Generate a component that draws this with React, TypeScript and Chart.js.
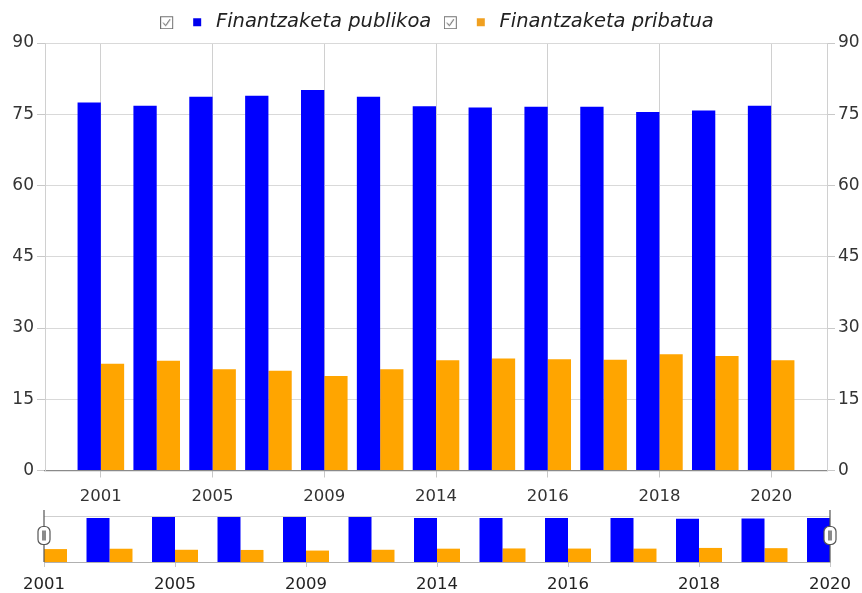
import React, { useEffect, useRef } from 'react';
import { Chart, registerables } from 'chart.js';

Chart.register(...registerables);

const years = ['2001', '2003', '2005', '2007', '2009', '2012', '2014', '2015', '2016', '2017', '2018', '2019', '2020'];
const publikoa = [77.5, 76.8, 78.7, 78.9, 80.1, 78.7, 76.7, 76.4, 76.6, 76.6, 75.5, 75.8, 76.8];
const pribatua = [22.5, 23.1, 21.3, 21.0, 19.9, 21.3, 23.2, 23.6, 23.4, 23.3, 24.5, 24.1, 23.2];
const seriesNames = ['Finantzaketa publikoa', 'Finantzaketa pribatua'];
const seriesColors = ['#0000FF', '#FFA500'];
const legendSquareColors = ['#0000EE', '#F0A020'];
const yTickValues = [0, 15, 30, 45, 60, 75, 90];
const labelledIndexes = [0, 2, 4, 6, 8, 10, 12];

const FONT = "'DejaVu Sans', Verdana, sans-serif";
const W = 862;
const MAIN_H = 505;
const NAV_H = 93;

function makeLegendIcon(color: string): HTMLCanvasElement {
  const c = document.createElement('canvas');
  c.width = 46;
  c.height = 14;
  const ctx = c.getContext('2d')!;
  ctx.strokeStyle = '#707070';
  ctx.lineWidth = 1;
  ctx.strokeRect(0.5, 1.5, 12, 12);
  ctx.beginPath();
  ctx.moveTo(3, 7.5);
  ctx.lineTo(5.5, 10.5);
  ctx.lineTo(10, 4);
  ctx.strokeStyle = '#444';
  ctx.stroke();
  ctx.fillStyle = color;
  ctx.fillRect(33, 3, 8, 8);
  return c;
}

const toPoints = (arr: number[]) => arr.map((v, i) => ({ x: i, y: v }));

const legendHeightPlugin = {
  id: 'legendHeight',
  beforeLayout(chart: any) {
    const lg = chart.legend;
    if (lg && !lg._patchedFit) {
      const orig = lg.fit.bind(lg);
      lg.fit = () => {
        orig();
        lg.height = 43;
      };
      const origDraw = lg.draw.bind(lg);
      lg.draw = (...args: any[]) => {
        const ctx = chart.ctx;
        ctx.save();
        ctx.translate(6, 0);
        origDraw(...args);
        ctx.restore();
      };
      lg._patchedFit = true;
    }
  },
};

function drawHandle(ctx: CanvasRenderingContext2D, x: number, top: number, bottom: number) {
  ctx.save();
  ctx.strokeStyle = '#555';
  ctx.lineWidth = 1.2;
  ctx.beginPath();
  ctx.moveTo(x, top - 6);
  ctx.lineTo(x, bottom);
  ctx.stroke();
  const hw = 12;
  const hh = 18;
  const hx = x - hw / 2;
  const hy = top + 10.5;
  ctx.beginPath();
  (ctx as any).roundRect(hx, hy, hw, hh, 5);
  ctx.fillStyle = '#fff';
  ctx.fill();
  ctx.strokeStyle = '#555';
  ctx.lineWidth = 1.2;
  ctx.stroke();
  ctx.fillStyle = '#8a8a8a';
  ctx.fillRect(x - 2, hy + 4, 4, hh - 8);
  ctx.restore();
}

const navigatorDecor = {
  id: 'navigatorDecor',
  afterDraw(chart: any) {
    const { ctx, chartArea } = chart;
    const { left, right, top, bottom } = chartArea;
    ctx.save();
    ctx.strokeStyle = '#cfcfcf';
    ctx.lineWidth = 1;
    ctx.beginPath();
    ctx.moveTo(left, top + 0.5);
    ctx.lineTo(right, top + 0.5);
    ctx.stroke();
    ctx.restore();
    drawHandle(ctx, left, top, bottom);
    drawHandle(ctx, right, top, bottom);
  },
};

export default function App() {
  const mainRef = useRef<HTMLCanvasElement>(null);
  const navRef = useRef<HTMLCanvasElement>(null);

  useEffect(() => {
    const icons = legendSquareColors.map((c) => makeLegendIcon(c));
    const datasets = [
      { label: seriesNames[0], data: toPoints(publikoa), backgroundColor: seriesColors[0] },
      { label: seriesNames[1], data: toPoints(pribatua), backgroundColor: seriesColors[1] },
    ];

    const main = new Chart(mainRef.current!, {
      type: 'bar',
      data: {
        datasets: datasets.map((d) => ({
          ...d,
          borderWidth: 0,
          categoryPercentage: 0.834,
          barPercentage: 1,
          yAxisID: 'y',
        })),
      },
      options: {
        responsive: false,
        animation: false,
        events: [],
        layout: { padding: 0 },
        plugins: {
          tooltip: { enabled: false },
          legend: {
            display: true,
            position: 'top',
            labels: {
              usePointStyle: true,
              pointStyleWidth: 46,
              padding: 12.5,
              color: '#222',
              font: { family: FONT, size: 19.5, style: 'italic' },
              generateLabels: () =>
                seriesNames.map((n, i) => ({
                  text: n,
                  pointStyle: icons[i],
                  fillStyle: seriesColors[i],
                  strokeStyle: 'transparent',
                  lineWidth: 0,
                  hidden: false,
                  datasetIndex: i,
                  fontColor: '#222',
                })),
            },
          },
        },
        scales: {
          x: {
            type: 'linear',
            min: -1,
            max: 13,
            offset: false,
            afterBuildTicks: (scale: any) => {
              scale.ticks = labelledIndexes.map((v) => ({ value: v }));
            },
            afterFit: (scale: any) => {
              scale.height = 34.5;
            },
            ticks: {
              autoSkip: false,
              maxRotation: 0,
              padding: 9,
              color: '#333',
              font: { family: FONT, size: 16.5 },
              callback: (v: any) => years[v as number],
            },
            grid: {
              offset: false,
              color: '#d0d0d0',
              tickColor: '#c8c8c8',
              tickLength: 7,
              drawTicks: true,
            },
            border: { color: '#8a8a8a', width: 1.2 },
          },
          y: {
            position: 'left',
            min: 0,
            max: 90,
            afterBuildTicks: (scale: any) => {
              scale.ticks = yTickValues.map((v) => ({ value: v }));
            },
            afterFit: (scale: any) => {
              scale.width = 45;
            },
            ticks: {
              padding: 3,
              color: '#333',
              font: { family: FONT, size: 17 },
            },
            grid: {
              color: '#d9d9d9',
              tickColor: '#c8c8c8',
              tickLength: 8,
            },
            border: { color: '#d0d0d0' },
          },
          y1: {
            position: 'right',
            min: 0,
            max: 90,
            afterBuildTicks: (scale: any) => {
              scale.ticks = yTickValues.map((v) => ({ value: v }));
            },
            afterFit: (scale: any) => {
              scale.width = 35;
            },
            ticks: {
              padding: 3,
              color: '#333',
              font: { family: FONT, size: 17 },
            },
            grid: {
              drawOnChartArea: false,
              tickColor: '#c8c8c8',
              tickLength: 8,
            },
            border: { color: '#d0d0d0' },
          },
        },
      } as any,
      plugins: [legendHeightPlugin],
    });

    const nav = new Chart(navRef.current!, {
      type: 'bar',
      data: {
        datasets: datasets.map((d) => ({
          ...d,
          borderWidth: 0,
          categoryPercentage: 0.702,
          barPercentage: 1,
        })),
      },
      options: {
        responsive: false,
        animation: false,
        events: [],
        layout: { padding: { top: 16, left: 44, right: 32, bottom: 0 } },
        plugins: {
          tooltip: { enabled: false },
          legend: { display: false },
        },
        scales: {
          x: {
            type: 'linear',
            min: 0,
            max: 12,
            offset: false,
            afterBuildTicks: (scale: any) => {
              scale.ticks = labelledIndexes.map((v) => ({ value: v }));
            },
            afterFit: (scale: any) => {
              scale.height = 31;
            },
            ticks: {
              autoSkip: false,
              maxRotation: 0,
              padding: 8,
              color: '#222',
              font: { family: FONT, size: 16.5 },
              callback: (v: any) => years[v as number],
            },
            grid: {
              offset: false,
              drawOnChartArea: false,
              tickColor: '#c8c8c8',
              tickLength: 5,
            },
            border: { color: '#b0b0b0', width: 1 },
          },
          y: {
            display: false,
            min: 0,
            max: Math.max(...publikoa),
          },
        },
      } as any,
      plugins: [navigatorDecor],
    });

    return () => {
      main.destroy();
      nav.destroy();
    };
  }, []);

  return (
    <div style={{ position: 'fixed', left: 0, top: 0, width: W, height: MAIN_H + NAV_H, background: '#fff' }}>
      <canvas
        ref={mainRef}
        width={W}
        height={MAIN_H}
        style={{ position: 'absolute', left: 0, top: 0, width: W, height: MAIN_H, display: 'block' }}
      />
      <canvas
        ref={navRef}
        width={W}
        height={NAV_H}
        style={{ position: 'absolute', left: 0, top: 500, width: W, height: NAV_H, display: 'block' }}
      />
    </div>
  );
}
